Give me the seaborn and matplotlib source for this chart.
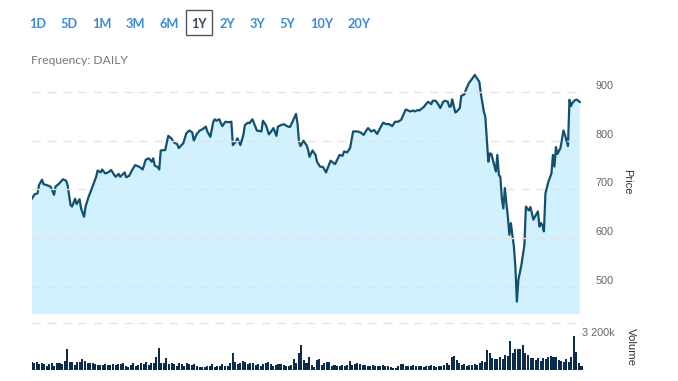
import numpy as np
import pandas as pd
import matplotlib
matplotlib.use("Agg")
import matplotlib.pyplot as plt
import matplotlib.dates as mdates
from matplotlib.transforms import ScaledTranslation
from matplotlib.patches import Rectangle
import seaborn as sns

# DATA

start = pd.Timestamp("2019-04-30")
end = pd.Timestamp("2020-05-01")

price_days = [0, 2, 4, 5, 7, 8, 10, 12, 13, 15, 16, 18, 21, 23, 24, 26, 27, 29, 30, 32,
              33, 35, 36, 38, 41, 43, 44, 46, 47, 49, 51, 53, 55, 56, 58, 59, 62, 63, 65, 67,
              69, 72, 74, 76, 78, 80, 81, 82, 84, 85, 86, 89, 91, 93, 95, 97, 98, 101, 103, 105,
              107, 108, 110, 112, 114, 116, 117, 119, 121, 122, 123, 125, 126, 127, 129, 131, 133, 134, 136, 137,
              139, 141, 142, 144, 145, 147, 149, 150, 153, 154, 156, 158, 159, 161, 163, 164, 166, 168, 170, 172,
              174, 176, 177, 178, 179, 181, 183, 184, 185, 187, 189, 190, 192, 194, 196, 199, 202, 205, 207, 208,
              210, 212, 214, 217, 219, 221, 223, 224, 226, 228, 230, 232, 234, 236, 238, 240, 242, 244, 246, 249,
              250, 252, 254, 255, 257, 258, 261, 263, 264, 266, 267, 269, 271, 272, 274, 275, 277, 278, 279, 280,
              282, 283, 285, 286, 288, 289, 291, 293, 295, 296, 298, 299, 301, 302, 303, 304, 305, 306, 307, 309,
              310, 311, 312, 313, 314, 315, 316, 317, 318, 319, 321, 322, 323, 324, 326, 328, 329, 331, 332, 334,
              335, 337, 338, 339, 340, 341, 342, 344, 346, 347, 348, 349, 350, 352, 354, 355, 357, 358, 359, 360,
              362, 363, 365]

price = [680, 690, 692, 709, 720, 711, 709, 707, 704, 689, 706, 711, 721, 718, 709, 668, 665, 681, 670, 680,
         661, 644, 665, 685, 709, 726, 739, 735, 741, 733, 735, 740, 730, 726, 732, 726, 735, 725, 728, 740,
         750, 746, 741, 761, 764, 757, 764, 749, 746, 741, 780, 781, 810, 805, 796, 793, 785, 795, 815, 821,
         817, 800, 814, 821, 824, 829, 819, 808, 839, 844, 841, 844, 836, 830, 839, 838, 839, 791, 798, 805,
         791, 812, 832, 837, 836, 844, 829, 821, 819, 841, 832, 813, 817, 826, 810, 829, 832, 834, 830, 828,
         841, 855, 836, 798, 789, 800, 791, 782, 767, 780, 771, 757, 747, 746, 735, 759, 752, 771, 769, 778,
         776, 785, 819, 819, 817, 812, 822, 826, 819, 822, 814, 826, 837, 834, 834, 830, 839, 839, 843, 864,
         863, 860, 862, 860, 863, 862, 869, 877, 880, 875, 882, 882, 873, 867, 880, 882, 880, 870, 870, 885,
         858, 860, 867, 892, 895, 904, 918, 926, 935, 930, 921, 897, 860, 849, 802, 757, 774, 773, 761, 737,
         771, 730, 726, 682, 661, 703, 672, 644, 607, 631, 583, 542, 470, 515, 545, 586, 665, 657, 664, 638,
         644, 655, 624, 631, 627, 614, 692, 716, 733, 771, 747, 787, 773, 785, 821, 812, 789, 884, 871, 878,
         884, 884, 879]

# daily volume, thousands of shares
volume_k = [767, 667, 767, 567, 667, 600, 433, 600, 667, 433, 667, 733, 600, 900, 2067, 767, 767, 500, 767, 767,
            1067, 900, 733, 733, 667, 567, 500, 500, 500, 567, 500, 500, 567, 500, 600, 567, 667, 433, 333, 500,
            733, 433, 500, 667, 567, 767, 500, 667, 733, 1267, 2167, 733, 667, 1233, 600, 667, 567, 433, 733, 567,
            433, 733, 567, 500, 567, 433, 333, 333, 267, 433, 400, 600, 333, 433, 433, 567, 433, 433, 733, 1667,
            767, 567, 733, 900, 833, 567, 733, 733, 500, 600, 433, 567, 667, 767, 567, 400, 500, 567, 567, 500,
            433, 400, 500, 1067, 667, 1667, 2467, 1000, 667, 1267, 500, 333, 1000, 1067, 500, 733, 833, 833, 400, 500,
            400, 400, 500, 433, 500, 900, 500, 600, 667, 600, 500, 500, 433, 400, 500, 433, 433, 433, 500, 433,
            433, 267, 167, 233, 433, 600, 567, 433, 433, 400, 500, 433, 433, 400, 333, 433, 433, 500, 400, 333,
            400, 433, 500, 733, 500, 1333, 1400, 1000, 667, 500, 567, 433, 500, 500, 600, 500, 667, 933, 833, 2000,
            1667, 1167, 1067, 1067, 1267, 1067, 1500, 1400, 2933, 1667, 2067, 2067, 2067, 2500, 1667, 1500, 1167, 1167, 1000, 1167,
            933, 1167, 1067, 1333, 1400, 1333, 1267, 1000, 933, 833, 1067, 833, 1267, 3400, 1833, 733, 400]

price_ticks = [500, 600, 700, 800, 900]
ranges = ["1D", "5D", "1M", "3M", "6M", "1Y", "2Y", "3Y", "5Y", "10Y", "20Y"]
selected = "1Y"

# PLOTTING

sns.set_style("white")
plt.rcParams["font.family"] = ["Liberation Sans", "DejaVu Sans"]

df = pd.DataFrame({"date": start + pd.to_timedelta(price_days, unit="D"), "price": price})
vol = pd.DataFrame({"date": pd.to_datetime(np.linspace(start.value, (end - pd.Timedelta(days=1)).value, len(volume_k))),
                    "volume": volume_k})

fig = plt.figure(figsize=(6.78, 3.81), dpi=100)
W, H = 678, 381
ax = fig.add_axes([32 / W, 1 - 314 / H, 551 / W, 252 / H])
axv = fig.add_axes([32 / W, 1 - 370 / H, 551 / W, 47 / H])

line_color = "#12506f"
grid_kw = dict(color="#e2e2e2", lw=1, ls=(0, (6, 5)))

# price area + line
ax.fill_between(df["date"], df["price"], 0, color="#d0f1fd", lw=0)
sns.lineplot(data=df, x="date", y="price", ax=ax, color=line_color, lw=1.6)

xmin = start + pd.Timedelta(hours=8)
ax.set_xlim(xmin, end)
ax.set_ylim(444.6, 961.5)
ax.set_yticks(price_ticks)
ax.yaxis.grid(True, **grid_kw)
ax.xaxis.grid(False)
ax.set_axisbelow(False)
ax.yaxis.tick_right()
ax.tick_params(axis="y", length=0, pad=9, labelsize=7.8, labelcolor="#666666")
ax.tick_params(axis="x", length=0, labelbottom=False)
ax.set_xlabel("")
ax.set_ylabel("")
for lab in ax.get_yticklabels():
    lab.set_transform(lab.get_transform() + ScaledTranslation(0, 7 / 100, fig.dpi_scale_trans))
for s in ax.spines.values():
    s.set_visible(False)
for gl in ax.get_ygridlines():
    gl.set_zorder(0.5)

# volume bars
axv.bar(vol["date"], vol["volume"], width=1.35, color="#0b2c4d", lw=0)
axv.set_xlim(xmin, end)
axv.set_ylim(0, 4700)
axv.axhline(4700, clip_on=False, **grid_kw)
axv.set_yticks([])
axv.xaxis.set_major_locator(mdates.MonthLocator(bymonth=[1, 3, 5, 7, 9, 11]))
axv.tick_params(axis="x", length=7, width=1, color="#ccd6eb", labelbottom=False, direction="out")
for s in axv.spines.values():
    s.set_visible(False)

# axis titles / labels
fig.text(627 / W, 1 - 182 / H, "Price", rotation=270, ha="center", va="center", fontsize=8, color="#333333")
fig.text(631 / W, 1 - 347 / H, "Volume", rotation=270, ha="center", va="center", fontsize=8.2, color="#333333")
fig.text(582 / W, 1 - 333 / H, "3 200k", ha="left", va="center", fontsize=7.8, color="#666666")

# range buttons
btn_x = [38, 69, 102, 135, 169, 199, 227, 257, 287, 322, 359]
for label, bx in zip(ranges, btn_x):
    c = "#3b4a5a" if label == selected else "#3b8ad9"
    fig.text(bx / W, 1 - 24 / H, label, ha="center", va="center", fontsize=9.2, weight="bold",
             color=c, family=["Lato", "DejaVu Sans"])
fig.patches.append(Rectangle((186 / W, 1 - 35 / H), 26 / W, 25 / H, transform=fig.transFigure,
                             fill=False, edgecolor="#555555", lw=1))

fig.text(31 / W, 1 - 60 / H, "Frequency: DAILY", ha="left", va="center", fontsize=8.7,
         color="#777777", family=["Lato", "DejaVu Sans"])

plt.savefig("out.png", dpi=100)
